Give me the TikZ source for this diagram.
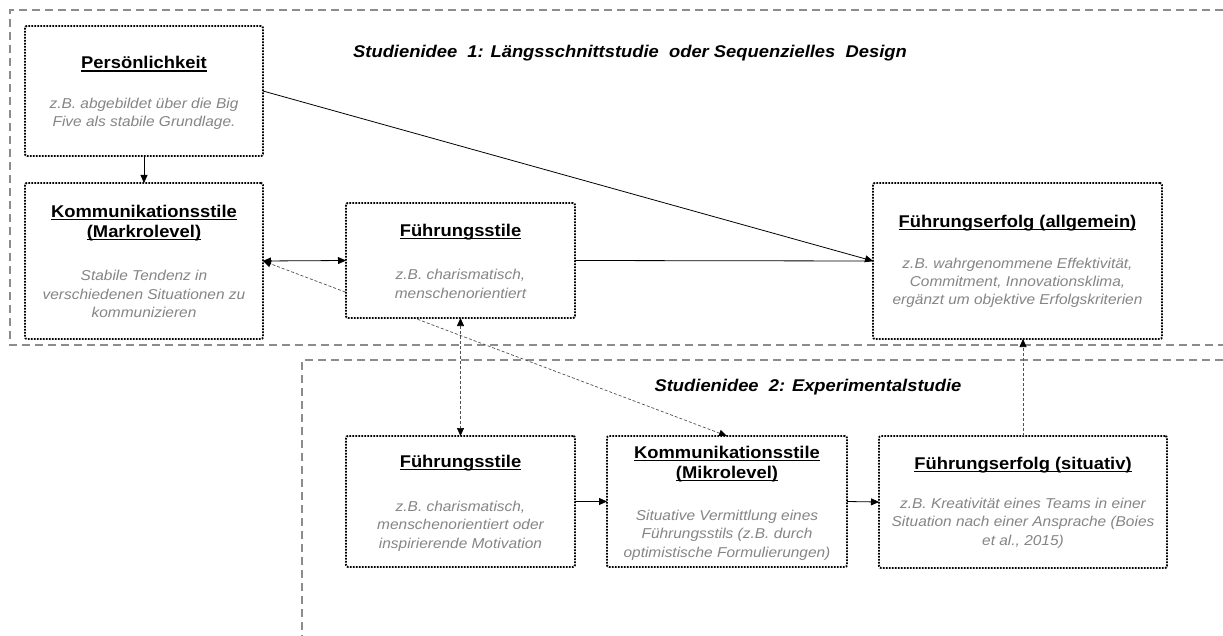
\documentclass[tikz,border=0pt]{standalone}
\usepackage{fontspec}
\setmainfont{Liberation Sans}[FakeStretch=1.08]
\usetikzlibrary{arrows.meta}
\pgfdeclarelayer{background}
\pgfsetlayers{background,main}
\definecolor{descgray}{HTML}{858585}
\definecolor{framegray}{HTML}{8C8C8C}
\definecolor{linkgray}{HTML}{505050}
\newcommand\myul[1]{\setbox0\hbox{#1}\rlap{\rule[-2.8pt]{\wd0}{1.3pt}}\box0}
\tikzset{
  box/.style={draw=black, fill=white, line width=1.9pt, dash pattern=on 1.7pt off 1.3pt, rounded corners=2pt, inner sep=0pt, outer sep=0pt},
  ttl/.style={font=\fontsize{17}{19.5}\selectfont\bfseries, align=center, inner sep=0pt},
  desc/.style={font=\fontsize{14.3}{18.3}\selectfont\itshape, text=descgray, align=center, inner sep=0pt},
  study/.style={font=\fontsize{17}{20}\selectfont\bfseries\itshape, inner sep=0pt},
  frame/.style={draw=framegray, line width=1.1pt, dash pattern=on 8pt off 5pt},
  solidlink/.style={draw=black, line width=0.8pt},
  dashlink/.style={draw=linkgray, line width=0.7pt, dash pattern=on 3pt off 2pt},
  tip/.style={-{Triangle[length=8pt,width=7pt,color=black]}},
  tips/.style={{Triangle[length=8pt,width=7pt,color=black]}-{Triangle[length=8pt,width=7pt,color=black]}}
}
\begin{document}
\begin{tikzpicture}[x=1pt,y=-1pt]
\useasboundingbox (0,0) rectangle (1223,636);

% study frames
\begin{pgfonlayer}{background}
\draw[frame] (1223,10) -- (10,10) -- (10,345) -- (1223,345);
\draw[frame] (1223,360) -- (302,360) -- (302,636);
\end{pgfonlayer}

\node[study] (st1) at (630,53) {Studienidee\ \ 1: Längsschnittstudie\ \ oder Sequenzielles\ \ Design};
\node[study] (st2) at (808,387) {Studienidee\ \ 2: Experimentalstudie};

% boxes
\node[box, minimum width=238pt, minimum height=130pt] (pers) at (144,91) {};
\node[box, minimum width=238pt, minimum height=156pt] (kmakro) at (144,261) {};
\node[box, minimum width=229pt, minimum height=115pt] (fs1) at (460.5,260.5) {};
\node[box, minimum width=289pt, minimum height=156pt] (feallg) at (1017.5,261) {};
\node[box, minimum width=229pt, minimum height=131pt] (fs2) at (460.5,501.5) {};
\node[box, minimum width=240pt, minimum height=131pt] (kmikro) at (727,501.5) {};
\node[box, minimum width=288pt, minimum height=132pt] (fesit) at (1023,502) {};

% texts
\node[ttl] (persT) at (144,64) {\myul{Persönlichkeit}};
\node[desc] (persD) at (144,114) {z.B. abgebildet über die Big\\Five als stabile Grundlage.};

\node[ttl] (kmakroT) at (144,223) {\myul{Kommunikationsstile}\\\myul{(Markrolevel)}};
\node[desc] (kmakroD) at (144,294) {Stabile Tendenz in\\verschiedenen Situationen zu\\kommunizieren};

\node[ttl] (fs1T) at (460.5,232) {\myul{Führungsstile}};
\node[desc] (fs1D) at (460.5,284) {z.B. charismatisch,\\menschenorientiert};

\node[ttl] (feallgT) at (1017.5,223) {\myul{Führungserfolg (allgemein)}};
\node[desc] (feallgD) at (1017.5,283) {z.B. wahrgenommene Effektivität,\\Commitment, Innovationsklima,\\ergänzt um objektive Erfolgskriterien};

\node[ttl] (fs2T) at (460.5,463) {\myul{Führungsstile}};
\node[desc] (fs2D) at (460.5,526) {z.B. charismatisch,\\menschenorientiert oder\\inspirierende Motivation};

\node[ttl] (kmikroT) at (727,464) {\myul{Kommunikationsstile}\\\myul{(Mikrolevel)}};
\node[desc] (kmikroD) at (727,535) {Situative Vermittlung eines\\Führungsstils (z.B. durch\\optimistische Formulierungen)};

\node[ttl] (fesitT) at (1023,465) {\myul{Führungserfolg (situativ)}};
\node[desc] (fesitD) at (1023,523) {z.B. Kreativität eines Teams in einer\\Situation nach einer Ansprache (Boies\\et al., 2015)};

% connectors
\begin{pgfonlayer}{background}
\draw[dashlink, tips] (kmikro.north) -- (kmakro.east);
\end{pgfonlayer}
\draw[solidlink, tip] (pers.south) -- (kmakro.north);
\draw[solidlink, tip] (pers.east) -- (feallg.west);
\draw[solidlink] (fs1.east) -- (feallg.west);
\draw[solidlink, tips] (kmakro.east) -- (fs1.west);
\draw[dashlink, tips] (fs1.south) -- (fs2.north);
\draw[solidlink, tip] (fs2.east) -- (kmikro.west);
\draw[solidlink, tip] (kmikro.east) -- (fesit.west);
\draw[dashlink, tip] (fesit.north) -- (fesit.north |- feallg.south);
\end{tikzpicture}
\end{document}
